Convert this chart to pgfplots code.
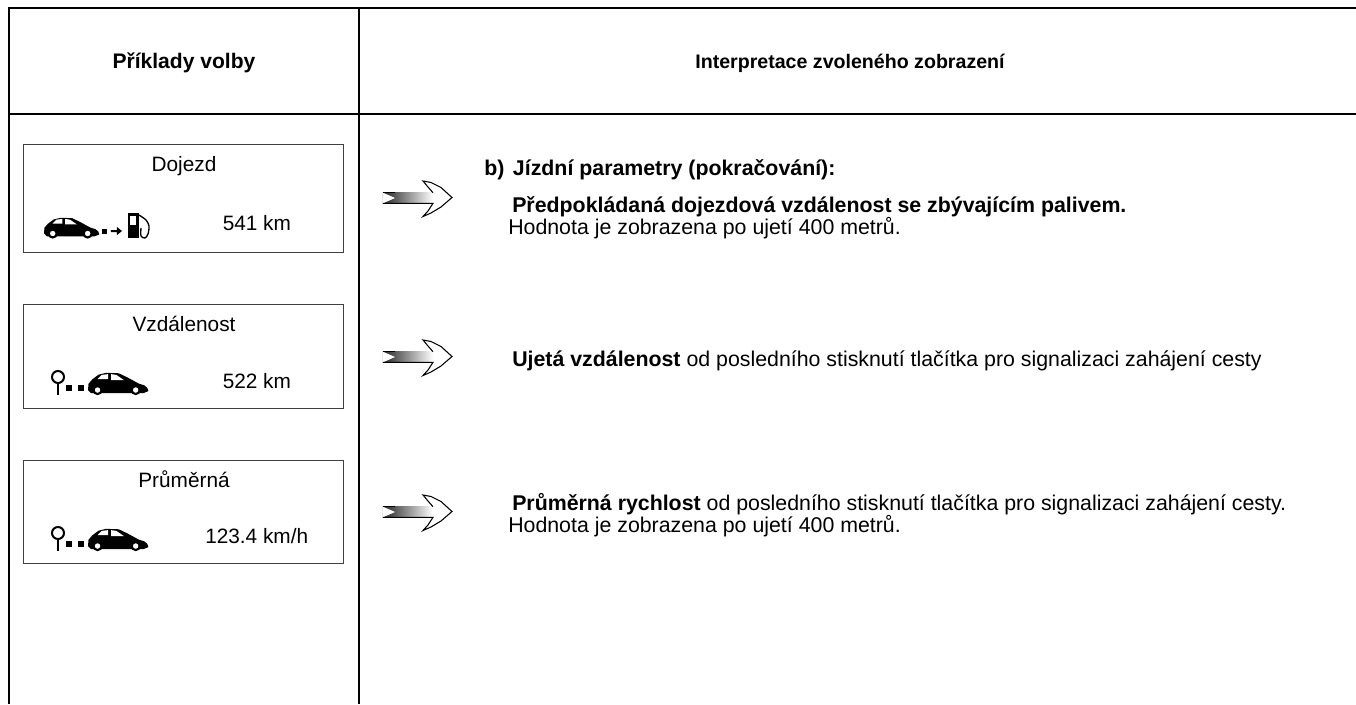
\documentclass[border=0pt]{standalone}
\usepackage{pgfplots}
\pgfplotsset{compat=1.18}
\usepackage{pgfplotstable}
\usepackage{fontspec}
\setmainfont{Liberation Sans}
\pgfplotstableread{
x y
0 17
0.5 11
4 7
10 2.5
17 0.8
29 1.2
37 5
48 11
53 12.5
56 15
57 18
52 20
12 20
3 20
}\carbody
\pgfplotstableread{
x y
9 6.7
13 2.7
19 2
19 6.7
}\winone
\pgfplotstableread{
x y
21.7 2
26.7 2.7
34 7.7
21.7 7.7
}\wintwo
\pgfplotstableread{
x y
9 17
45 17
}\wheels
\newcommand{\car}[3]{%
\addplot[fill=black,draw=none] table[x expr=\thisrow{x}*#3+#1,y expr=\thisrow{y}*#3+#2]{\carbody};
\addplot[fill=white,draw=none] table[x expr=\thisrow{x}*#3+#1,y expr=\thisrow{y}*#3+#2]{\winone};
\addplot[fill=white,draw=none] table[x expr=\thisrow{x}*#3+#1,y expr=\thisrow{y}*#3+#2]{\wintwo};
\addplot[only marks,mark=*,mark size=3pt,mark options={fill=white,draw=black,line width=1.6pt}] table[x expr=\thisrow{x}*#3+#1,y expr=\thisrow{y}*#3+#2]{\wheels};
}
\pgfplotstableread{
x y
423 181
431 182.5
441 187.5
452 197.5
441 207
431 213
423 216.5
428 211
433 203.5
433 192.5
428 187
}\arrowhead
\pgfplotstableread{
x y
383 192.7
433 192.7
433 203.3
383 203.3
}\arrowtail
\pgfplotstableread{
x y
433 192.7
428 187
423 181
431 182.5
441 187.5
452 197.5
441 207
431 213
423 216.5
428 211
433 203.3
383 203.3
}\arrowline
\pgfplotstableread{
x y
383 192.7
395 198
383 203.3
}\arrownotch
\newcommand{\bigarrow}[1]{%
\addplot[fill=white,draw=none] table[y expr=\thisrow{y}+#1]{\arrowhead};
\addplot[draw=none,left color=black!85,right color=white] table[y expr=\thisrow{y}+#1]{\arrowtail};
\addplot[fill=white,draw=none] table[y expr=\thisrow{y}+#1]{\arrownotch};
\addplot[draw=black,line width=0.8pt] table[y expr=\thisrow{y}+#1]{\arrowline};
\addplot[draw=black,line width=1.1pt] coordinates {(383,192.7+#1) (395,192.7+#1)};
}
\newcommand{\pin}[2]{%
\addplot[draw=black,line width=1.6pt] coordinates {(#1,#2+4) (#1,#2+18)};
\addplot[only marks,mark=*,mark size=4.5pt,mark options={fill=white,draw=black,line width=1.5pt}] coordinates {(#1,#2)};
\addplot[only marks,mark=square*,mark size=1.9pt,black] coordinates {(#1+11,#2+11) (#1+23,#2+11)};
}
\newcommand{\hdA}{\fontsize{15.8pt}{17pt}\selectfont\bfseries}
\newcommand{\hdB}{\fontsize{14.7pt}{17pt}\selectfont\bfseries}
\newcommand{\lab}{\fontsize{15.6pt}{17pt}\selectfont}
\newcommand{\bod}{\fontsize{16pt}{18pt}\selectfont}
\begin{document}
\begin{tikzpicture}
\useasboundingbox (0,0) rectangle (1017pt,528pt);
\begin{axis}[at={(0,0)},anchor=south west,width=1017pt,height=528pt,scale only axis,
  xmin=0,xmax=1356,ymin=0,ymax=704,y dir=reverse,hide axis,clip=true]
% table rules
\addplot[draw=black,line width=2.1pt] coordinates {(8,8) (1356,8)};
\addplot[draw=black,line width=2.1pt] coordinates {(8,114) (1356,114)};
\addplot[draw=black,line width=2.1pt] coordinates {(9,7) (9,704)};
\addplot[draw=black,line width=2.1pt] coordinates {(359,7) (359,704)};
% boxes
\addplot[draw=black!75,line width=0.75pt] coordinates {(24,144) (344,144) (344,252) (24,252) (24,144)};
\addplot[draw=black!75,line width=0.75pt] coordinates {(24,304) (344,304) (344,408) (24,408) (24,304)};
\addplot[draw=black!75,line width=0.75pt] coordinates {(24,460) (344,460) (344,563) (24,563) (24,460)};
% icons box 1
\car{44}{217}{0.97}
\addplot[only marks,mark=square*,mark size=1.6pt,black] coordinates {(104,231)};
\addplot[fill=black,draw=none] coordinates {(111,230) (117,230) (117,227) (122,231) (117,235) (117,232) (111,232)};
\addplot[fill=black,draw=none] coordinates {(128,213) (139,213) (139,238) (128,238)};
\addplot[fill=white,draw=none] coordinates {(130.5,216) (136.5,216) (136.5,225) (130.5,225)};
\addplot[draw=black,line width=1pt,smooth] coordinates {(139,215) (146,220) (149,226) (148,234) (145,238) (141,236) (141,228)};
% icons box 2, 3
\pin{58}{377}
\car{88}{372}{1.06}
\pin{58}{533}
\car{88}{528}{1.06}
% arrows
\bigarrow{0}
\bigarrow{159}
\bigarrow{314}
% texts
\node[anchor=base,inner sep=0pt,font=\hdA] at (axis cs:184,68.5) {Příklady volby};
\node[anchor=base,inner sep=0pt,font=\hdB] at (axis cs:850,68.5) {Interpretace zvoleného zobrazení};
\node[anchor=base,inner sep=0pt,font=\lab] at (axis cs:184,171) {Dojezd};
\node[anchor=base west,inner sep=0pt,font=\lab] at (axis cs:222.5,230) {541 km};
\node[anchor=base,inner sep=0pt,font=\lab] at (axis cs:184,331) {Vzdálenost};
\node[anchor=base west,inner sep=0pt,font=\lab] at (axis cs:222.5,388) {522 km};
\node[anchor=base,inner sep=0pt,font=\lab] at (axis cs:184,487) {Průměrná};
\node[anchor=base west,inner sep=0pt,font=\lab] at (axis cs:205,543) {123.4 km/h};
\node[anchor=base west,inner sep=0pt,font=\bod\bfseries] at (axis cs:484,175) {b)\hspace{2pt}\ Jízdní parametry (pokračování):};
\node[anchor=base west,inner sep=0pt,font=\bod\bfseries] at (axis cs:512,212) {Předpokládaná dojezdová vzdálenost se zbývajícím palivem.};
\node[anchor=base west,inner sep=0pt,font=\bod] at (axis cs:508,234) {Hodnota je zobrazena po ujetí 400 metrů.};
\node[anchor=base west,inner sep=0pt,font=\bod] at (axis cs:512,366) {\textbf{Ujetá vzdálenost} od posledního stisknutí tlačítka pro signalizaci zahájení cesty};
\node[anchor=base west,inner sep=0pt,font=\bod] at (axis cs:512,510) {\textbf{Průměrná rychlost} od posledního stisknutí tlačítka pro signalizaci zahájení cesty.};
\node[anchor=base west,inner sep=0pt,font=\bod] at (axis cs:508,532) {Hodnota je zobrazena po ujetí 400 metrů.};
\end{axis}
\end{tikzpicture}
\end{document}
